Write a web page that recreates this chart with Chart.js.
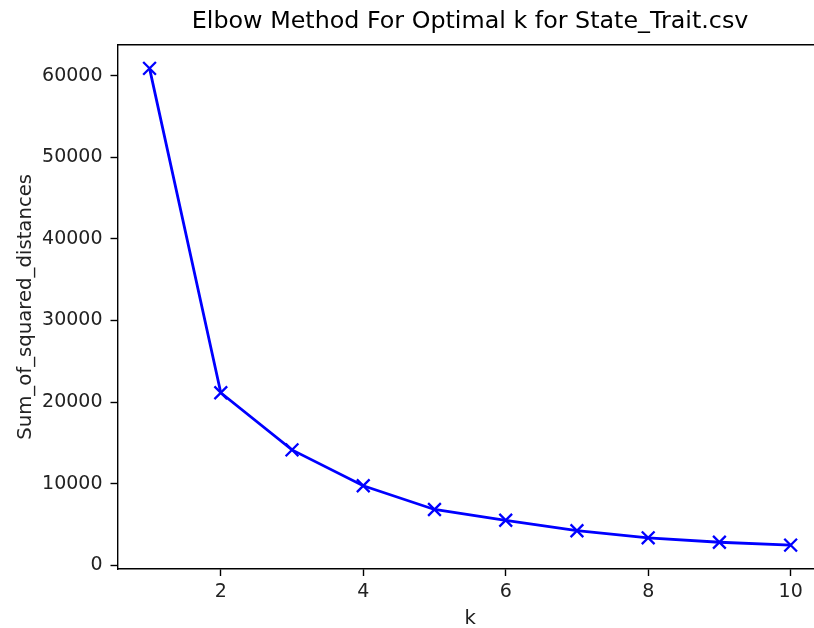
<!DOCTYPE html>
<html>
<head>
<meta charset="utf-8">
<script src="https://cdn.jsdelivr.net/npm/chart.js@4.4.1/dist/chart.umd.min.js"></script>
<style>
  html, body { margin: 0; padding: 0; background: #fff; overflow: hidden; }
  #wrap { width: 840px; height: 628px; }
</style>
</head>
<body>
<div id="wrap"><canvas id="elbow" width="840" height="628"></canvas></div>
<script>
// k values and inertia
const kValues = [1, 2, 3, 4, 5, 6, 7, 8, 9, 10];
const sumSquared = [60900, 21150, 14150, 9760, 6850, 5530, 4250, 3380, 2840, 2480];
const xTickValues = [2, 4, 6, 8, 10];
const yTickValues = [0, 10000, 20000, 30000, 40000, 50000, 60000];
const chartTitle = 'Elbow Method For Optimal k for State_Trait.csv';

const FONT = "'DejaVu Sans', sans-serif";

// matplotlib-like 5% margins
const xMin = 0.55, xMax = 10.45;
const yMin = -440, yMax = 63800;

// top spine + title centred over the axes (matplotlib style)
const frame = {
  id: 'frame',
  afterDraw(chart) {
    const a = chart.chartArea;
    const ctx = chart.ctx;
    ctx.save();
    ctx.strokeStyle = '#000';
    ctx.lineWidth = 1.4;
    ctx.beginPath();
    ctx.moveTo(a.left, a.top);
    ctx.lineTo(a.right + 20, a.top);
    ctx.stroke();

    ctx.fillStyle = '#000';
    ctx.font = '23.8px ' + FONT;
    ctx.textAlign = 'center';
    ctx.textBaseline = 'middle';
    ctx.fillText(chartTitle, (a.left + a.right) / 2, 22);
    ctx.restore();
  }
};

new Chart(document.getElementById('elbow'), {
  type: 'line',
  data: {
    datasets: [{
      data: kValues.map((k, i) => ({ x: k, y: sumSquared[i] })),
      borderColor: '#0000ff',
      backgroundColor: '#0000ff',
      borderWidth: 2.8,
      pointStyle: 'crossRot',
      pointRadius: 9,
      pointBorderWidth: 2.3,
      tension: 0
    }]
  },
  options: {
    responsive: false,
    animation: false,
    layout: { padding: { left: 0, right: 17.3, top: 44.7, bottom: 0 } },
    plugins: {
      legend: { display: false },
      tooltip: { enabled: false },
      title: { display: false }
    },
    scales: {
      x: {
        type: 'linear',
        min: xMin,
        max: xMax,
        afterBuildTicks: s => { s.ticks = xTickValues.map(v => ({ value: v })); },
        afterFit: s => { s.height = 59; },
        grid: { drawOnChartArea: false, drawTicks: true, tickLength: 7, tickColor: '#000', tickWidth: 1.4 },
        border: { display: true, color: '#000', width: 1.4 },
        ticks: { color: '#222', font: { family: FONT, size: 19 }, padding: 5, maxRotation: 0 },
        title: { display: true, text: 'k', color: '#222', font: { family: FONT, size: 19.7 }, padding: { top: 0, bottom: -3 } }
      },
      y: {
        type: 'linear',
        min: yMin,
        max: yMax,
        afterBuildTicks: s => { s.ticks = yTickValues.map(v => ({ value: v })); },
        afterFit: s => { s.width = 117.5; },
        grid: { drawOnChartArea: false, drawTicks: true, tickLength: 7, tickColor: '#000', tickWidth: 1.4 },
        border: { display: true, color: '#000', width: 1.4 },
        ticks: { color: '#222', font: { family: FONT, size: 19 }, padding: 8, callback: v => String(v) },
        title: { display: true, text: 'Sum_of_squared_distances', color: '#222', font: { family: FONT, size: 19.7 }, padding: { top: 14, bottom: 0 } }
      }
    }
  },
  plugins: [frame]
});
</script>
</body>
</html>
